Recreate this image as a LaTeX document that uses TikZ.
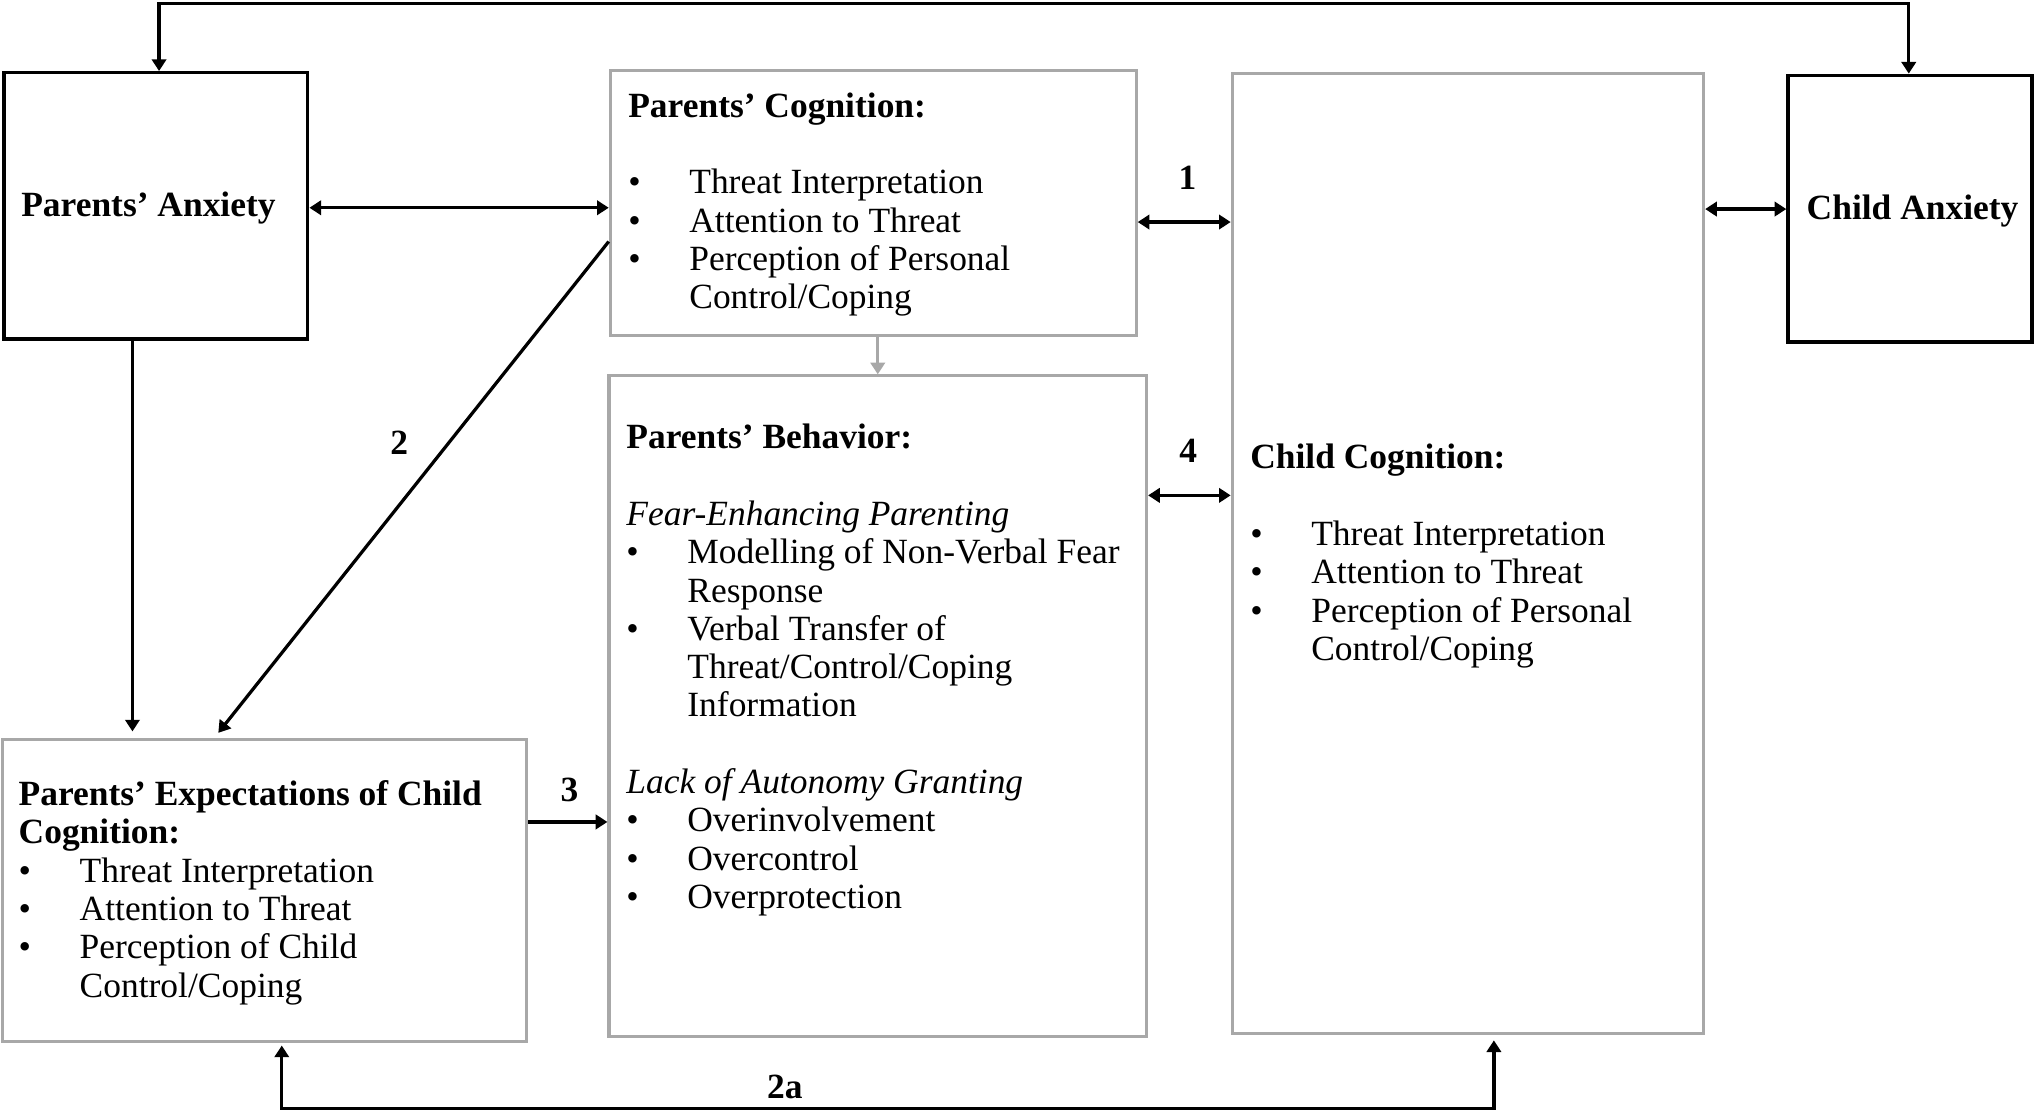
\documentclass[tikz,border=0pt]{standalone}
\usepackage{fontspec}
\setmainfont{Liberation Serif}
\usetikzlibrary{arrows.meta,fit}
\definecolor{boxgray}{HTML}{A8A8A8}
\newcommand{\txtsize}{\fontsize{13.65}{14.75}\selectfont}
\newcommand{\ttl}[1]{\multicolumn{2}{@{}l@{}}{#1}}
\newenvironment{blist}{\begin{tabular}{@{}p{23.5pt}@{}l@{}}}{\end{tabular}}
\begin{document}
\begin{tikzpicture}[x=0.5pt,y=-0.5pt,
  bbox/.style={draw=black, line width=1.3pt, inner sep=0pt},
  gbox/.style={draw=boxgray, line width=1.2pt, inner sep=0pt},
  tip/.tip={Triangle[length=4.5pt,width=5.5pt]},
  conn/.style={line width=1.25pt, -tip},
  dconn/.style={line width=1.25pt, tip-tip},
  gconn/.style={draw=boxgray, line width=1.2pt, -tip},
  txt/.style={inner sep=0pt, anchor=north west, font=\txtsize},
  lbl/.style={inner sep=0pt, anchor=base, font=\txtsize\bfseries},
  ]
\useasboundingbox (0,0) rectangle (1568,856.4);

% boxes
\node[bbox, fit={(3,56)(237,261)}] (pa) {};
\node[gbox, fit={(470,54)(875,258.5)}] (pc) {};
\node[gbox, fit={(469,289.5)(883,798)}] (pb) {};
\node[gbox, fit={(949,56.5)(1312,796)}] (cc) {};
\node[bbox, fit={(1377,58)(1565,263.5)}] (ca) {};
\node[gbox, fit={(2,569.5)(405.5,802)}] (pe) {};

% texts
\node[lbl, anchor=base west] (pat) at (16,167) {Parents’ Anxiety};
\node[lbl, anchor=base west] (cat) at (1391,169.4) {Child Anxiety};

\node[txt] (pct) at (483.5,69.3) {\begin{blist}
\ttl{\textbf{Parents’ Cognition:}}\\
\\
\textbullet & Threat Interpretation\\
\textbullet & Attention to Threat\\
\textbullet & Perception of Personal\\
 & Control/Coping
\end{blist}};

\node[txt] (pbt) at (482,324.6) {\begin{blist}
\ttl{\textbf{Parents’ Behavior:}}\\
\\
\ttl{\textit{Fear-Enhancing Parenting}}\\
\textbullet & Modelling of Non-Verbal Fear\\
 & Response\\
\textbullet & Verbal Transfer of\\
 & Threat/Control/Coping\\
 & Information\\
\\
\ttl{\textit{Lack of Autonomy Granting}}\\
\textbullet & Overinvolvement\\
\textbullet & Overcontrol\\
\textbullet & Overprotection
\end{blist}};

\node[txt] (cct) at (962.5,340) {\begin{blist}
\ttl{\textbf{Child Cognition:}}\\
\\
\textbullet & Threat Interpretation\\
\textbullet & Attention to Threat\\
\textbullet & Perception of Personal\\
 & Control/Coping
\end{blist}};

\node[txt] (pet) at (14,599.4) {\begin{blist}
\ttl{\textbf{Parents’ Expectations of Child}}\\
\ttl{\textbf{Cognition:}}\\
\textbullet & Threat Interpretation\\
\textbullet & Attention to Threat\\
\textbullet & Perception of Child\\
 & Control/Coping
\end{blist}};

% labels
\node[lbl] (l1) at (914.5,146) {1};
\node[lbl] (l2) at (307.5,350) {2};
\node[lbl] (l3) at (438.5,617.5) {3};
\node[lbl] (l4) at (915,356.5) {4};
\node[lbl] (l2a) at (604.5,846) {2a};

% helper coordinates
\coordinate (t1) at (122.5,2.5);
\coordinate (t2) at (1470,2.5);
\coordinate (ya) at (0,160);
\coordinate (y1) at (0,171);
\coordinate (y5) at (0,161);
\coordinate (gx) at (676,0);
\coordinate (y4) at (0,381.5);
\coordinate (vx) at (102,0);
\coordinate (y2) at (0,186);
\coordinate (e2) at (165,0);
\coordinate (y3) at (0,633);
\coordinate (bL) at (217,853.5);
\coordinate (bR) at (1150.5,853.5);

% connectors
\draw[dconn] (pa.north -| t1) -- (t1) -- (t2) -- (ca.north -| t2);
\draw[dconn] (pa.east |- ya) -- (pc.west |- ya);
\draw[dconn] (pc.east |- y1) -- (cc.west |- y1);
\draw[dconn] (cc.east |- y5) -- (ca.west |- y5);
\draw[gconn] (pc.south -| gx) -- (pb.north -| gx);
\draw[dconn] (pb.east |- y4) -- (cc.west |- y4);
\draw[conn, shorten >=2.5pt] (pa.south -| vx) -- (pe.north -| vx);
\draw[conn, shorten >=2.5pt] (pc.west |- y2) -- (pe.north -| e2);
\draw[conn] (pe.east |- y3) -- (pb.west |- y3);
\draw[dconn, shorten <=1pt, shorten >=2pt] (pe.south -| bL) -- (bL) -- (bR) -- (cc.south -| bR);
\end{tikzpicture}
\end{document}
